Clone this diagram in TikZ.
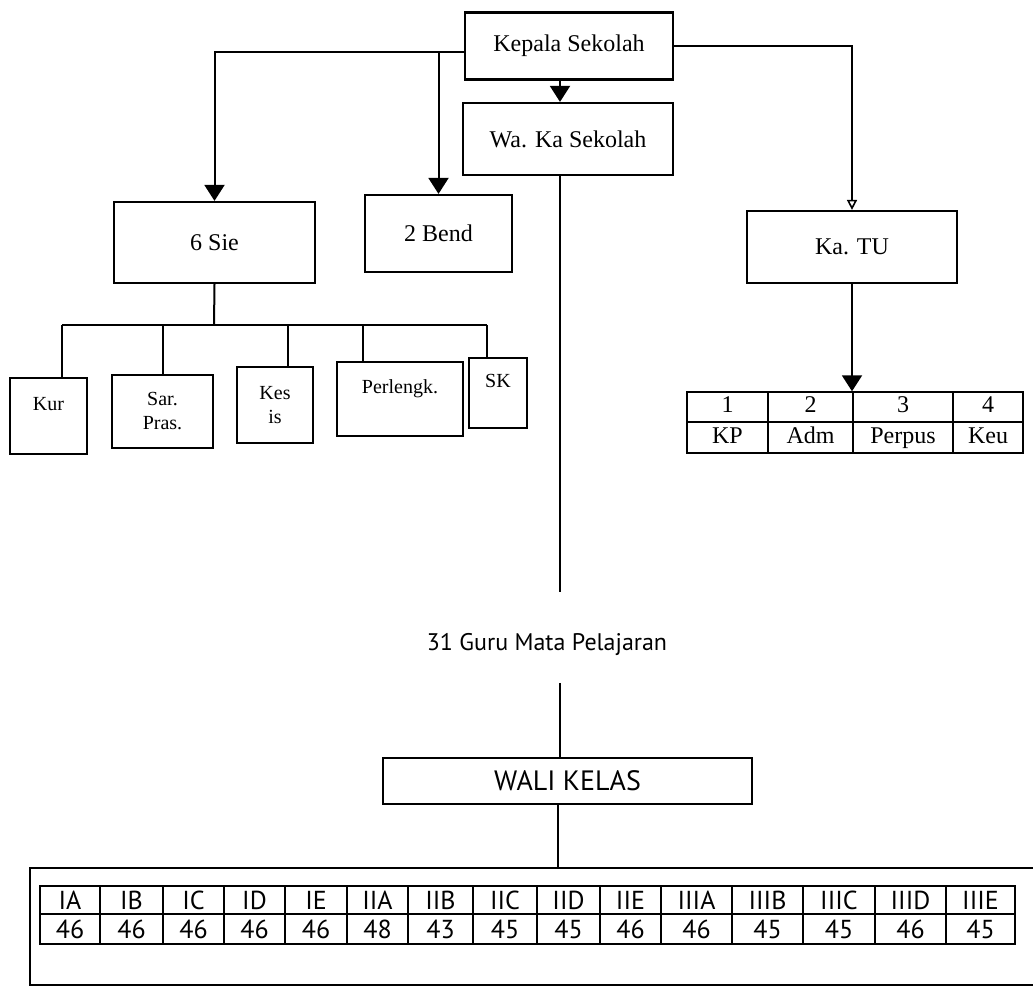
\documentclass[tikz,border=0pt]{standalone}
\usepackage{fontspec}
\setmainfont{Liberation Serif}
\newfontfamily\humsans{PT Sans}
\usetikzlibrary{arrows.meta}

\begin{document}
\begin{tikzpicture}[
			x=0.5pt, y=-0.5pt,
			box/.style    = {draw, line width=1.1pt, inner sep=2pt, font=\fontsize{12}{14}\selectfont},
			subbox/.style = {draw, line width=1.1pt, inner sep=1pt, align=center, font=\fontsize{10}{12}\selectfont},
			cell/.style   = {draw, line width=0.7pt, inner sep=0pt, text height=8.5pt, text depth=2.5pt, font=\fontsize{12}{14}\selectfont},
			klas/.style   = {draw, line width=0.9pt, inner sep=0pt, text height=9pt, text depth=0pt, font=\humsans\fontsize{13}{15}\selectfont},
			link/.style   = {line width=1pt},
			edge/.style   = {-{Triangle[length=8pt,width=10pt]}, line width=1pt},
			openedge/.style = {-{Triangle[open,length=5pt,width=5pt]}, line width=0.8pt}
			]
			\useasboundingbox (0,0) rectangle (1033,1004);

			% top boxes
			\node[box, minimum width=104pt, minimum height=33.5pt] (kepala) at (569,46) {Kepala Sekolah};
			\node[box, minimum width=105pt, minimum height=36pt] (waka) at (568,139) {Wa. Ka Sekolah};
			\node[box, minimum width=100.5pt, minimum height=40.5pt] (sie) at (214.5,242.5) {6 Sie};
			\node[box, minimum width=73.5pt, minimum height=38.5pt] (bend) at (438.5,233.5) {2 Bend};
			\node[box, minimum width=105pt, minimum height=36pt] (katu) at (852,247) {Ka. TU};

			% arrows from the head
			\coordinate (kleft) at ([yshift=-3pt]kepala.west);
			\draw[edge] (kleft) -| (sie.north);
			\draw[edge] (kleft -| bend.north) -- (bend.north);
			\draw[openedge] (kepala.east) -| (katu.north);
			\coordinate (g1) at (560,592);
			\draw[edge] (kepala.south -| g1) -- (waka.north -| g1);

			% sections under 6 Sie
			\node[subbox, minimum width=38.5pt, minimum height=38pt] (kur) at (48.5,416) {Kur\\~};
			\node[subbox, minimum width=50.5pt, minimum height=36.5pt] (sar) at (162.5,411.5) {Sar.\\Pras.};
			\node[subbox, minimum width=38pt, minimum height=38pt] (kes) at (275,405) {Kes\\is};
			\node[subbox, minimum width=63pt, minimum height=37pt] (perl) at (400,399) {Perlengk.\\~};
			\node[subbox, minimum width=29pt, minimum height=35pt] (sk) at (498,393) {SK\\~};

			\coordinate (bus) at (214,325);
			\coordinate (b1) at (62,325);
			\coordinate (b2) at (163,325);
			\coordinate (b3) at (288,325);
			\coordinate (b4) at (363,325);
			\coordinate (b5) at (487,325);
			\draw[link] (sie.south) -- (bus);
			\draw[link] (b1) -- (b5);
			\foreach \b/\c in {b1/kur, b2/sar, b3/kes, b4/perl, b5/sk}
			\draw[link] (\b) -- (\b |- \c.north);

			% staff under Ka. TU
			\foreach \cnum/\cname/\xa/\xb [count=\i] in {1/KP/687/768, 2/Adm/768/853, 3/Perpus/853/953, 4/Keu/953/1023} {
					\node[cell, minimum width={(\xb-\xa)*0.5pt}, minimum height=15pt] (tu\i) at ({(\xa+\xb)/2},407) {\cnum};
					\node[cell, minimum width={(\xb-\xa)*0.5pt}, minimum height=15.5pt] (tub\i) at ({(\xa+\xb)/2},437.5) {\cname};
				}
			\draw[edge] (katu.south) -- (katu.south |- tu3.north);

			% teachers
			\draw[link] (waka.south -| g1) -- (g1);
			\node[font=\humsans\fontsize{12}{14}\selectfont] (guru) at (547,645) {31 Guru Mata Pelajaran};
			\coordinate (g2) at (560,683);
			\node[box, font=\humsans\fontsize{14}{16}\selectfont, minimum width=184.5pt, minimum height=23pt] (wali) at (567.5,781) {WALI KELAS};
			\draw[link] (g2) -- (g2 |- wali.north);
			\coordinate (g3) at (558,868);
			\draw[link] (wali.south -| g3) -- (g3);

			% classes
			\draw[line width=1.1pt] (1033,868) -- (30,868) -- (30,985) -- (1033,985);
			\foreach \nm/\val/\xa/\xb [count=\i] in {IA/46/40/100, IB/46/100/163, IC/46/163/224, ID/46/224/285, IE/46/285/347,
					IIA/48/347/408, IIB/43/408/473, IIC/45/473/537, IID/45/537/600, IIE/46/600/661,
					IIIA/46/661/732, IIIB/45/732/803, IIIC/45/803/875, IIID/46/875/946, IIIE/45/946/1015} {
					\node[klas, minimum width={(\xb-\xa)*0.5pt}, minimum height=14pt] (kls\i) at ({(\xa+\xb)/2},900) {\nm};
					\node[klas, minimum width={(\xb-\xa)*0.5pt}, minimum height=15pt] (jml\i) at ({(\xa+\xb)/2},929) {\val};
				}
		\end{tikzpicture}
\end{document}
